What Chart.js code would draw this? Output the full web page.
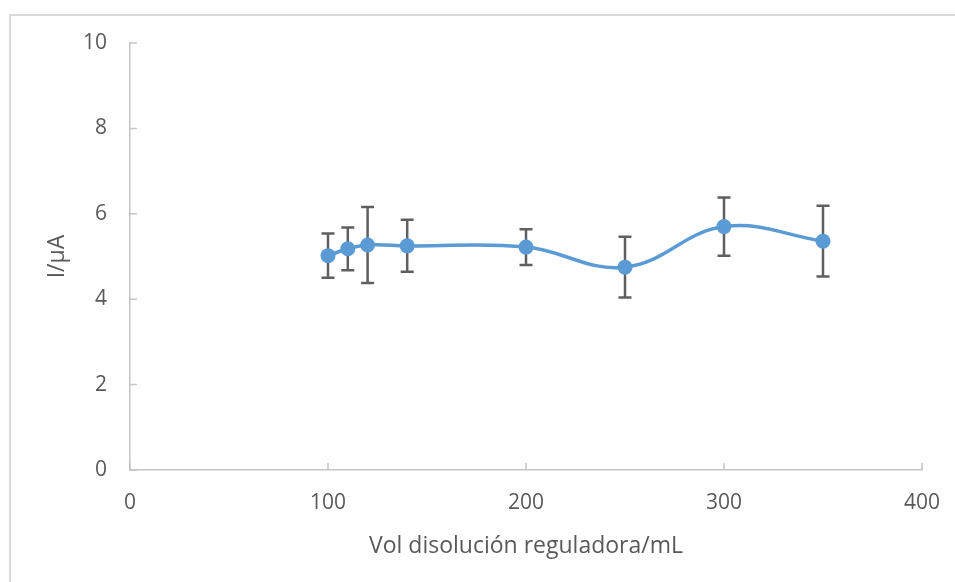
<!DOCTYPE html>
<html>
<head>
<meta charset="utf-8">
<script src="https://cdn.jsdelivr.net/npm/chart.js@4"></script>
<style>
  html, body { margin: 0; padding: 0; background: #fff; overflow: hidden; }
  #wrap { position: relative; width: 955px; height: 582px; overflow: hidden; }
  #frame { position: absolute; left: 9px; top: 14px; right: -5px; bottom: -5px;
           border-left: 2px solid #D9D9D9; border-top: 2px solid #D9D9D9; pointer-events: none; }
</style>
</head>
<body>
<div id="wrap">
  <canvas id="chart" width="955" height="582"></canvas>
  <div id="frame"></div>
</div>
<script>
// datos
const volumes = [100, 110, 120, 140, 200, 250, 300, 350];
const current = [5.02, 5.18, 5.27, 5.25, 5.22, 4.75, 5.70, 5.36];
const errors  = [0.52, 0.50, 0.89, 0.61, 0.42, 0.71, 0.68, 0.83];
const xTicks = [0, 100, 200, 300, 400];
const yTicks = [0, 2, 4, 6, 8, 10];

const textColor = '#595959';
const axisColor = '#C4C4C4';

// barras de error + marcas hacia dentro
const errorBars = {
    id: 'errorBars',
    beforeDatasetsDraw(chart) {
        const { ctx, chartArea: area, scales: { x, y } } = chart;
        ctx.save();
        // marcas de los ejes (hacia dentro)
        ctx.strokeStyle = axisColor;
        ctx.lineWidth = 1.5;
        ctx.beginPath();
        yTicks.forEach(v => {
            const py = y.getPixelForValue(v);
            ctx.moveTo(area.left, py);
            ctx.lineTo(area.left + 7, py);
        });
        xTicks.forEach(v => {
            const px = x.getPixelForValue(v);
            ctx.moveTo(px, area.bottom);
            ctx.lineTo(px, area.bottom - 7);
        });
        ctx.stroke();

        ctx.strokeStyle = '#5F5F5F';
        ctx.lineWidth = 2.5;
        volumes.forEach((v, i) => {
            const px = x.getPixelForValue(v);
            const top = y.getPixelForValue(current[i] + errors[i]);
            const bot = y.getPixelForValue(current[i] - errors[i]);
            ctx.beginPath();
            ctx.moveTo(px, top); ctx.lineTo(px, bot);
            ctx.moveTo(px - 6.5, top); ctx.lineTo(px + 6.5, top);
            ctx.moveTo(px - 6.5, bot); ctx.lineTo(px + 6.5, bot);
            ctx.stroke();
        });
        ctx.restore();
    }
};

const ctx = document.getElementById('chart').getContext('2d');
new Chart(ctx, {
    type: 'line',
    data: {
        datasets: [{
            data: volumes.map((v, i) => ({ x: v, y: current[i] })),
            borderColor: '#5B9BD5',
            backgroundColor: '#5B9BD5',
            borderWidth: 3.5,
            pointRadius: 7.5,
            pointBorderWidth: 0,
            tension: 0.4,
            fill: false
        }]
    },
    options: {
        responsive: false,
        animation: false,
        layout: { padding: { top: 43, right: 33, left: 0, bottom: 0 } },
        plugins: { legend: { display: false }, tooltip: { enabled: false } },
        scales: {
            x: {
                type: 'linear',
                min: 0, max: 400,
                afterFit: s => { s.height = 112; s.paddingLeft = 0; s.paddingRight = 0; },
                afterBuildTicks: s => { s.ticks = xTicks.map(v => ({ value: v })); },
                grid: { display: false, drawTicks: false },
                border: { display: true, color: axisColor, width: 1.5 },
                ticks: { color: textColor, padding: 20, font: { family: 'Open Sans', size: 21 } },
                title: {
                    display: true,
                    text: 'Vol disolución reguladora/mL',
                    color: textColor,
                    font: { family: 'Open Sans', size: 23 },
                    padding: { top: 0, bottom: 22 }
                }
            },
            y: {
                min: 0, max: 10,
                afterFit: s => { s.width = 130; s.paddingTop = 0; s.paddingBottom = 0; },
                afterBuildTicks: s => { s.ticks = yTicks.map(v => ({ value: v })); },
                grid: { display: false, drawTicks: false },
                border: { display: true, color: axisColor, width: 1.5 },
                ticks: { color: textColor, padding: 23, font: { family: 'Open Sans', size: 21 } },
                title: {
                    display: true,
                    text: 'I/µA',
                    color: textColor,
                    font: { family: 'Open Sans', size: 23 },
                    padding: { top: 44, bottom: 0 }
                }
            }
        }
    },
    plugins: [errorBars]
});
</script>
</body>
</html>
